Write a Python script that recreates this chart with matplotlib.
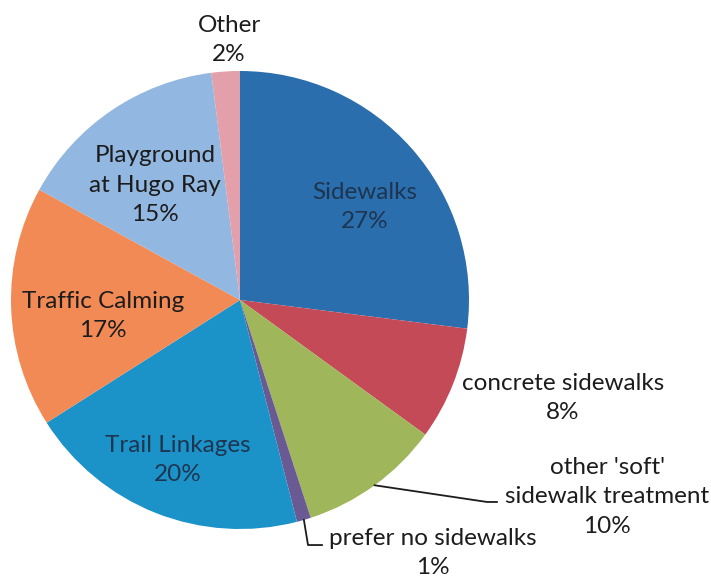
import numpy as np
import matplotlib.pyplot as plt

plt.rcParams['font.family'] = ['Lato', 'DejaVu Sans']

labels = ['Sidewalks', 'concrete sidewalks', "other 'soft'\nsidewalk treatment",
          'prefer no sidewalks', 'Trail Linkages', 'Traffic Calming',
          'Playground\nat Hugo Ray', 'Other']
shares = [27, 8, 10, 1, 20, 17, 15, 2]
colors = ['#2a6eae', '#c44a57', '#9fb65a', '#6a5a94', '#1b93c9', '#f28a55',
          '#92b7e0', '#e4a0aa']

# label centres in axes data units (pie radius = 1)
label_pos = [(0.546, 0.406), (1.410, -0.428), (1.603, -0.860), (0.843, -1.105),
             (-0.271, -0.699), (-0.598, -0.070), (-0.371, 0.502), (-0.048, 1.135)]
text_colors = ['#1e3550', '#1c1c1c', '#1c1c1c', '#1c1c1c', '#1e3550', '#1c1c1c',
               '#1c1c1c', '#1c1c1c']

fig = plt.figure(figsize=(7.11, 5.8), dpi=100)
ax = fig.add_axes([0, 0, 1, 1])
wedges, _ = ax.pie(shares, colors=colors, startangle=90, counterclock=False,
                   radius=1, wedgeprops=dict(linewidth=0))

for lab, val, (x, y), tc in zip(labels, shares, label_pos, text_colors):
    ax.text(x, y, f'{lab}\n{val}%', ha='center', va='center', fontsize=17.5,
            color=tc, linespacing=1.5)

# leader lines for the small wedges
def edge_point(w):
    ang = np.deg2rad((w.theta1 + w.theta2) / 2)
    return np.cos(ang), np.sin(ang)

x0, y0 = edge_point(wedges[2])
ax.plot([x0, 1.079, 1.122], [y0, -0.882, -0.882], color='#1c1c1c', lw=1.3)
x0, y0 = edge_point(wedges[3])
ax.plot([x0, 0.297, 0.358], [y0, -1.07, -1.07], color='#1c1c1c', lw=1.3)

ax.set_xlim(-240 / 229, 471 / 229)
ax.set_ylim(-280 / 229, 300 / 229)
ax.set_aspect('equal')
ax.axis('off')

fig.savefig('out.png', dpi=100)
